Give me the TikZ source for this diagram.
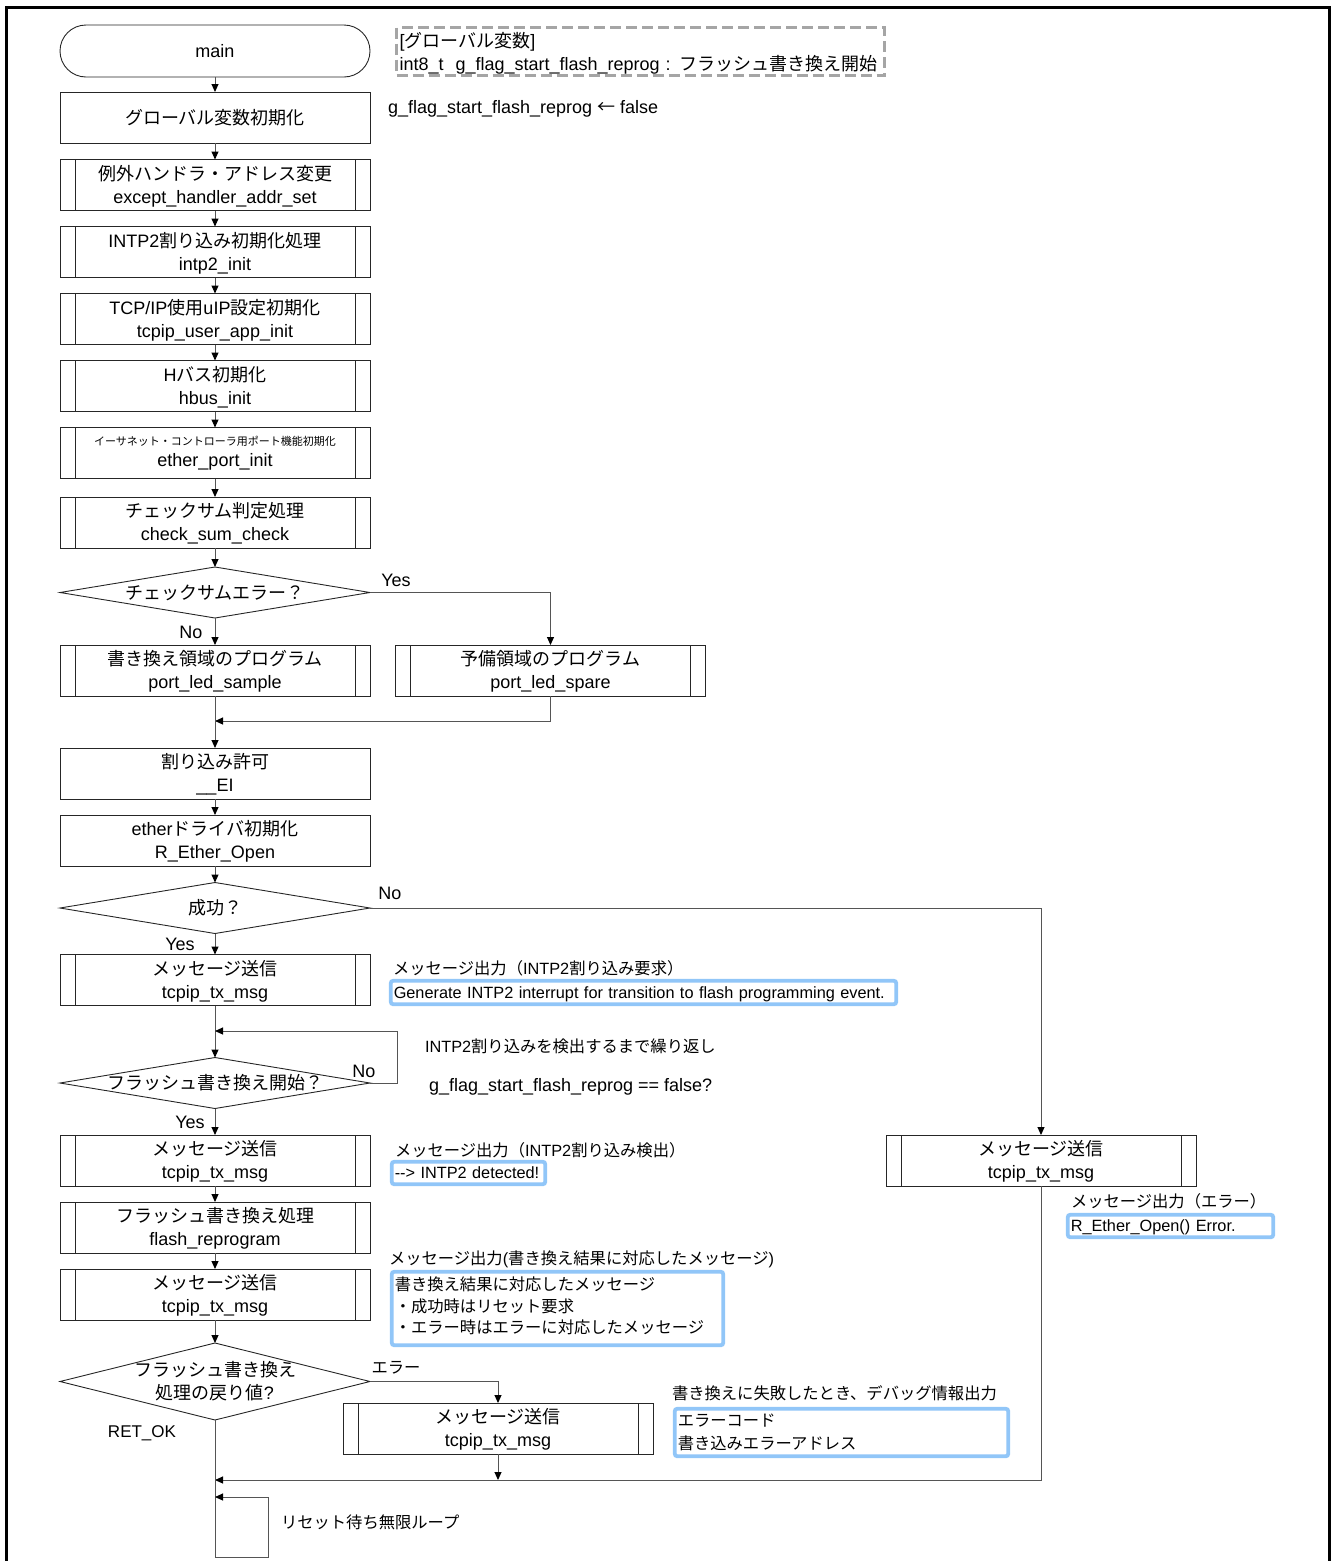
\documentclass[tikz,border=0pt]{standalone}
\usepackage{fontspec}
\setmainfont{Liberation Sans}
\newfontfamily\jpf{Noto Sans CJK JP}
\newcommand\J[1]{{\jpf #1}}
\usetikzlibrary{arrows.meta,shapes.geometric,shapes.misc}

\definecolor{linegray}{RGB}{85,85,85}
\definecolor{notegray}{RGB}{165,165,165}
\definecolor{noteblue}{RGB}{145,198,248}

\newcommand\fsM{\fontsize{18}{23}\selectfont}
\newcommand\fsA{\fontsize{16.3}{21.5}\selectfont}
% strut that lowers the first line of a two-line box slightly
\newcommand\topstrut{\rule{0pt}{17pt}}

\begin{document}
\begin{tikzpicture}[x=1pt,y=-1pt,
  every node/.style={inner sep=0pt, outer sep=0pt},
  term/.style={rounded rectangle, draw=black!85, line width=0.9pt,
    minimum width=310pt, minimum height=52pt, font=\fsM},
  procbox/.style={draw=black!85, line width=0.9pt, minimum width=310pt,
    minimum height=51pt, align=center, font=\fsM},
  subbox/.style={procbox, path picture={
    \draw[black!85, line width=0.9pt]
      ([xshift=15pt]path picture bounding box.north west) --
      ([xshift=15pt]path picture bounding box.south west)
      ([xshift=-15pt]path picture bounding box.north east) --
      ([xshift=-15pt]path picture bounding box.south east);}},
  cond/.style={diamond, draw=black!85, line width=0.9pt,
    minimum width=310pt, minimum height=51pt},
  lbl/.style={font=\fsM, align=center},
  txt/.style={font=\fsM},
  anno/.style={font=\fsA, anchor=west},
  note/.style={draw=noteblue, line width=3.8pt, rounded corners=2.5pt,
    fill=white, font=\fsA, align=left, inner xsep=3pt},
  vardecl/.style={draw=notegray, line width=3pt, dash pattern=on 11pt off 5pt,
    font=\fsM, align=left, inner xsep=3pt},
  conn/.style={draw=linegray, line width=1pt},
  arr/.style={conn, -{Triangle[length=8pt,width=7pt,color=black]}}
]
\useasboundingbox (0,0) rectangle (1332,1561);

% outer frame
\draw[line width=3pt] (6,1600) -- (6,7.5) -- (1329,7.5) -- (1329,1600);

% main column
\node[term] (main) at (215,51) {main};
\node[procbox] (init) at (215,117.5) {\J{グローバル変数初期化}};
\node[subbox] (exc) at (215,185) {\topstrut\J{例外ハンドラ・アドレス変更}\\except\_handler\_addr\_set};
\node[subbox] (intp) at (215,252) {\topstrut INTP2\J{割り込み初期化処理}\\intp2\_init};
\node[subbox] (tcp) at (215,319) {\topstrut TCP/IP\J{使用}uIP\J{設定初期化}\\tcpip\_user\_app\_init};
\node[subbox] (hbus) at (215,386) {\topstrut H\J{バス初期化}\\hbus\_init};
\node[subbox] (eport) at (215,453) {{\fontsize{11}{13}\selectfont\J{イーサネット・コントローラ用ポート機能初期化}}\\[-2pt]ether\_port\_init};
\node[subbox] (csum) at (215,522.5) {\topstrut\J{チェックサム判定処理}\\check\_sum\_check};
\node[cond, label={[lbl]center:{\J{チェックサムエラー？}}}] (d1) at (215,592.5) {};
\node[subbox] (smp) at (215,670.5) {\topstrut\J{書き換え領域のプログラム}\\port\_led\_sample};
\node[subbox] (spr) at (550.5,670.5) {\topstrut\J{予備領域のプログラム}\\port\_led\_spare};
\node[procbox] (ei) at (215,773.5) {\topstrut\J{割り込み許可}\\\_\_EI};
\node[procbox] (eth) at (215,840.5) {\topstrut ether\J{ドライバ初期化}\\R\_Ether\_Open};
\node[cond, label={[lbl]center:{\J{成功？}}}] (d2) at (215,908) {};
\node[subbox] (m1) at (215,980) {\topstrut\J{メッセージ送信}\\tcpip\_tx\_msg};
\node[cond, label={[lbl]center:{\J{フラッシュ書き換え開始？}}}] (d3) at (215,1083) {};
\node[subbox] (m2) at (215,1160.5) {\topstrut\J{メッセージ送信}\\tcpip\_tx\_msg};
\node[subbox] (fl) at (215,1227.5) {\topstrut\J{フラッシュ書き換え処理}\\flash\_reprogram};
\node[subbox] (m3) at (215,1294.5) {\topstrut\J{メッセージ送信}\\tcpip\_tx\_msg};
\node[cond, minimum height=77pt, label={[lbl]center:{\J{フラッシュ書き換え}\\\J{処理の戻り値}?}}] (d4) at (215,1381.5) {};
\node[subbox] (m4) at (498,1428.5) {\topstrut\J{メッセージ送信}\\tcpip\_tx\_msg};
\node[subbox] (m5) at (1041,1160.5) {\topstrut\J{メッセージ送信}\\tcpip\_tx\_msg};

% branch labels
\node[txt] (ly1) at (396,580) {Yes};
\node[txt] (ln1) at (191,632) {No};
\node[txt] (ln2) at (390,893) {No};
\node[txt] (ly2) at (180,944) {Yes};
\node[txt] (ln3) at (364,1071) {No};
\node[txt] (ly3) at (190,1122) {Yes};
\node[font=\fsA] (lerr) at (396,1368) {\J{エラー}};
\node[font=\fontsize{17}{20}\selectfont] (lok) at (142,1433) {RET\_OK};

% junction and loop points
\coordinate (j1) at (215,721);
\coordinate (lp) at (397,1031);
\coordinate (lpe) at (215,1031);
\coordinate (j2) at (498,1480);
\coordinate (j3) at (215,1480);
\coordinate (lb) at (215,1557);
\coordinate (lr) at (268,1497);
\coordinate (le) at (215,1497);

% connectors
\draw[arr] (main) -- (init);
\draw[arr] (init) -- (exc);
\draw[arr] (exc) -- (intp);
\draw[arr] (intp) -- (tcp);
\draw[arr] (tcp) -- (hbus);
\draw[arr] (hbus) -- (eport);
\draw[arr] (eport) -- (csum);
\draw[arr] (csum) -- (d1);
\draw[arr] (d1.east) -| (spr.north);
\draw[arr] (d1.south) -- (smp.north);
\draw[arr] (spr.south) |- (j1);
\draw[arr] (smp) -- (ei);
\draw[arr] (ei) -- (eth);
\draw[arr] (eth) -- (d2);
\draw[arr] (d2.east) -| (m5.north);
\draw[arr] (d2.south) -- (m1.north);
\draw[arr] (m1) -- (d3);
\draw[arr] (d3.east) -| (lp) -- (lpe);
\draw[arr] (d3.south) -- (m2.north);
\draw[arr] (m2) -- (fl);
\draw[arr] (fl) -- (m3);
\draw[arr] (m3) -- (d4);
\draw[arr] (d4.east) -| (m4.north);
\draw[arr] (m4.south) -- (j2);
\draw[arr] (m5.south) |- (j3);
\draw[conn] (d4.south) -- (lb);
\draw[arr] (lb) -| (lr) -- (le);

% notes and annotations
\node[vardecl, text width=482pt, minimum height=48pt] (vars) at (640.5,51.5)
  {\rule{0pt}{18pt}[\J{グローバル変数}]\\int8\_t\ \ g\_flag\_start\_flash\_reprog : \J{フラッシュ書き換え開始}};
\node[txt, anchor=west] (ginit) at (388,109) {g\_flag\_start\_flash\_reprog \J{←} false};

\node[anno] (h1) at (393,968) {\J{メッセージ出力（}INTP2\J{割り込み要求）}};
\node[note, text width=499.5pt, minimum height=23.5pt, text depth=0.5pt] (n1) at (643.5,992.5)
  {Generate INTP2 interrupt for transition to flash programming event.};

\node[anno] (rep1) at (425,1046) {INTP2\J{割り込みを検出するまで繰り返し}};
\node[txt, anchor=west] (rep2) at (429,1087) {g\_flag\_start\_flash\_reprog == false?};

\node[anno] (h2) at (395,1150) {\J{メッセージ出力（}INTP2\J{割り込み検出）}};
\node[note, text width=147.5pt, minimum height=22.5pt, text depth=0.5pt] (n2) at (468.5,1173)
  {-\kern0pt-> INTP2 detected!};

\node[anno] (h3) at (1071,1201) {\J{メッセージ出力（エラー）}};
\node[note, text width=199.5pt, minimum height=22.5pt, text depth=0.5pt] (n3) at (1170.5,1226)
  {R\_Ether\_Open() Error.};

\node[anno] (h4) at (389,1259) {\J{メッセージ出力}(\J{書き換え結果に対応したメッセージ})};
\node[note, text width=325.5pt, minimum height=73.5pt] (n4) at (557.5,1308.5)
  {\J{書き換え結果に対応したメッセージ}\\\J{・成功時はリセット要求}\\\J{・エラー時はエラーに対応したメッセージ}\rule[-6pt]{0pt}{6pt}};

\node[anno] (h5) at (672,1393) {\J{書き換えに失敗したとき、デバッグ情報出力}};
\node[note, text width=327.5pt, minimum height=47.5pt] (n5) at (841.5,1432.5)
  {\J{エラーコード}\\[1.5pt]\J{書き込みエラーアドレス}};

\node[anno] (rst) at (281,1522) {\J{リセット待ち無限ループ}};
\end{tikzpicture}
\end{document}
